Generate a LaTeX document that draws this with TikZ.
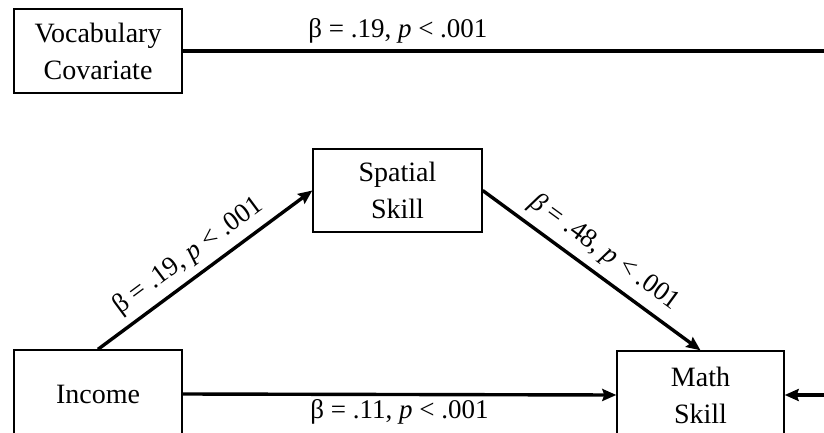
\documentclass[tikz,border=0pt]{standalone}
\usepackage{fontspec}
\setmainfont{Liberation Serif}
\usetikzlibrary{arrows.meta}
\begin{document}
\begin{tikzpicture}[x=1pt,y=-1pt,
  box/.style={draw, line width=1.4pt, align=center, inner sep=0pt,
    font=\fontsize{28}{37}\selectfont},
  conn/.style={line width=3.4pt, -{Stealth[length=14pt,width=12pt,inset=2pt]}},
  lbl/.style={font=\fontsize{27}{30}\selectfont, inner sep=2pt}]
\useasboundingbox (0,0) rectangle (824,433);
\clip (0,0) rectangle (824,433);
\node[box, minimum width=168pt, minimum height=84pt] (voc) at (98,51) {Vocabulary\\Covariate};
\node[box, minimum width=169pt, minimum height=83pt] (spa) at (397.5,190.5) {Spatial\\Skill};
\node[box, minimum width=168pt, minimum height=88pt] (inc) at (98,394) {Income};
\node[box, minimum width=167pt, minimum height=88pt] (mat) at (700.5,395) {Math\\Skill};
\coordinate (rc) at (900,51);
\draw[conn] (voc.east) -- node[lbl, above=4pt, pos=0.30] (l1) {β = .19, \textit{p} < .001} (rc) |- (mat.east);
\draw[conn] (inc.north) -- node[lbl, sloped, above=5pt, pos=0.48] (l2) {β = .19, \textit{p} < .001} (spa.west);
\draw[conn] (spa.east) -- node[lbl, sloped, above=6pt, pos=0.50] (l3) {\textit{β} = .48, \textit{p} < .001} (mat.north);
\draw[conn] (inc.east) -- node[lbl, below=1pt, midway] (l4) {β = .11, \textit{p} < .001} (mat.west);
\end{tikzpicture}
\end{document}
